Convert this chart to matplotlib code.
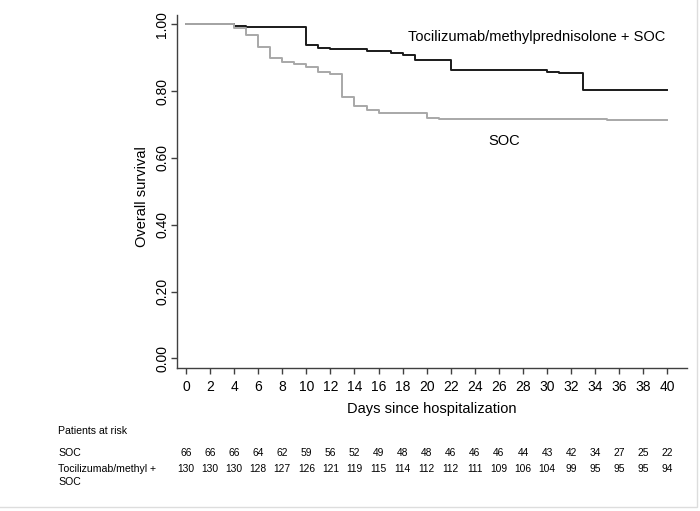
import matplotlib
matplotlib.use("Agg")
import matplotlib.pyplot as plt
from matplotlib.transforms import blended_transform_factory
from matplotlib.patches import Rectangle

plt.rcParams['font.family'] = ['Liberation Sans', 'DejaVu Sans']

# Kaplan-Meier step data
toci_days = [0, 4, 5, 8, 10, 11, 12, 15, 17, 18, 19, 22, 30, 31, 33, 40]
toci_surv = [1.0, 0.995, 0.993, 0.991, 0.938, 0.930, 0.926, 0.919, 0.913,
             0.908, 0.893, 0.864, 0.858, 0.853, 0.804, 0.804]

soc_days = [0, 4, 5, 6, 7, 8, 9, 10, 11, 12, 13, 14, 15, 16, 20, 21, 35, 40]
soc_surv = [1.0, 0.988, 0.968, 0.931, 0.900, 0.888, 0.881, 0.873, 0.858,
            0.852, 0.782, 0.757, 0.745, 0.734, 0.720, 0.717, 0.713, 0.713]

# patients at risk
risk_days = list(range(0, 41, 2))
risk_soc = [66, 66, 66, 64, 62, 59, 56, 52, 49, 48, 48, 46, 46, 46, 44, 43,
            42, 34, 27, 25, 22]
risk_toci = [130, 130, 130, 128, 127, 126, 121, 119, 115, 114, 112, 112, 111,
             109, 106, 104, 99, 95, 95, 95, 94]

yticks = [0.0, 0.2, 0.4, 0.6, 0.8, 1.0]

W, H = 700, 511
fig = plt.figure(figsize=(W / 100, H / 100), dpi=100)
ax = fig.add_axes([176.7 / W, 1 - 367.7 / H, 510 / W, 352.7 / H])

ax.step(toci_days, toci_surv, where='post', color='#1a1a1a', lw=1.4)
ax.step(soc_days, soc_surv, where='post', color='#a8a8a8', lw=1.4)

ax.set_xlim(-0.77, 41.6)
ax.set_ylim(-0.028, 1.028)

for s in ['top', 'right']:
    ax.spines[s].set_visible(False)
for s in ['left', 'bottom']:
    ax.spines[s].set_color('#404040')
    ax.spines[s].set_linewidth(1.0)

ax.set_xticks(risk_days)
ax.set_yticks(yticks)
ax.set_yticklabels([f"{v:.2f}" for v in yticks], rotation=90, va='center')
ax.tick_params(axis='both', direction='out', length=4.5, width=1.0,
               color='#404040', labelsize=10, labelcolor='black')
ax.tick_params(axis='x', pad=4)
ax.tick_params(axis='y', pad=0.8)

ax.set_xlabel("Days since hospitalization", fontsize=10.5, labelpad=6)
ax.text(-0.069, 0.484, "Overall survival", transform=ax.transAxes,
        rotation=90, fontsize=10.5, ha='center', va='center')

ax.text(18.45, 0.962, "Tocilizumab/methylprednisolone + SOC", fontsize=10.5,
        ha='left', va='center')
ax.text(26.4, 0.651, "SOC", fontsize=10.5, ha='center', va='center')

# risk table under the plot
tr = blended_transform_factory(ax.transData, fig.transFigure)
fs_lab = 7.6
fs_num = 7.4
fig.text(58 / W, 1 - 431 / H, "Patients at risk", fontsize=fs_lab, va='center')
fig.text(58 / W, 1 - 453 / H, "SOC", fontsize=fs_lab, va='center')
fig.text(58 / W, 1 - 468.5 / H, "Tocilizumab/methyl +", fontsize=fs_lab, va='center')
fig.text(58 / W, 1 - 482 / H, "SOC", fontsize=fs_lab, va='center')
for d, a, b in zip(risk_days, risk_soc, risk_toci):
    fig.text(d, 1 - 453 / H, str(a), transform=tr, fontsize=fs_num,
             ha='center', va='center')
    fig.text(d, 1 - 468.5 / H, str(b), transform=tr, fontsize=fs_num,
             ha='center', va='center')

# faint frame around the graph
fig.patches.append(Rectangle((-0.01, 4 / H), 697 / W + 0.01, 1.02,
                             transform=fig.transFigure, fill=False,
                             edgecolor='#dddddd', lw=1.0))

fig.savefig("out.png", dpi=100)
